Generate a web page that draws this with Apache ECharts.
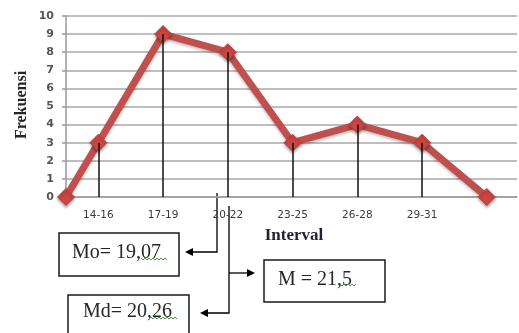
<!DOCTYPE html>
<html>
<head>
<meta charset="utf-8">
<script src="https://cdn.jsdelivr.net/npm/echarts@6/dist/echarts.min.js"></script>
<style>
  html, body { margin: 0; padding: 0; background: #ffffff; }
  #chart { width: 519px; height: 333px; }
</style>
</head>
<body>
<div id="chart"></div>
<script>
// Class intervals and their midpoints
const classLabels = ['14-16', '17-19', '20-22', '23-25', '26-28', '29-31'];
const classMids = [15, 18, 21, 24, 27, 30];
// Frequency polygon: closed at both ends with zero frequency
const polygonX = [13.5, 15, 18, 21, 24, 27, 30, 33];
const polygonY = [0, 3, 9, 8, 3, 4, 3, 0];
const yTicks = [0, 10, 1]; // min, max, step
// Summary statistics shown in the boxes
const statLabels = { mode: 'Mo= 19,07', median: 'Md= 20,26', mean: 'M = 21,5' };

const chart = echarts.init(document.getElementById('chart'), null, { renderer: 'canvas' });

const points = polygonX.map((x, i) => [x, polygonY[i]]);
const dropLines = points
  .filter(p => classMids.includes(p[0]))
  .map(p => [{ coord: [p[0], p[1]] }, { coord: [p[0], 0] }]);

const serif = '"Liberation Serif", "DejaVu Serif", serif';
const ink = '#262626';

function arrowHead(tipX, tipY, dir) {
  // dir: -1 points left, 1 points right
  const len = 8, half = 4;
  return {
    type: 'polygon',
    shape: { points: [[tipX, tipY], [tipX - dir * len, tipY - half], [tipX - dir * len, tipY + half]] },
    style: { fill: '#000' }
  };
}

function squiggle(x0, x1, y) {
  const pts = [];
  let up = true;
  for (let x = x0; x <= x1; x += 2) { pts.push([x, up ? y : y + 2]); up = !up; }
  return { type: 'polyline', shape: { points: pts }, style: { stroke: '#3aa13a', lineWidth: 1, fill: null } };
}

function box(x, y, w, h, label, tx, ty) {
  return [
    { type: 'rect', shape: { x: x, y: y, width: w, height: h }, style: { fill: '#fff', stroke: '#1a1a1a', lineWidth: 1.5 } },
    { type: 'text', x: tx, y: ty, style: { text: label, font: '20px ' + serif, fill: ink, textVerticalAlign: 'middle' } }
  ];
}

const option = {
  animation: false,
  backgroundColor: '#ffffff',
  grid: { left: 66, right: 2, top: 16, bottom: 136, containLabel: false },
  xAxis: {
    type: 'value',
    min: 13.5,
    max: 34.4,
    interval: 1.5,
    axisLine: { show: true, lineStyle: { color: '#9a9a9a', width: 1.5 } },
    axisTick: { show: false },
    splitLine: { show: false },
    axisLabel: {
      margin: 13,
      fontSize: 10.5,
      fontFamily: '"DejaVu Sans", sans-serif',
      color: '#3a3a3a',
      showMaxLabel: false,
      formatter: v => {
        const i = classMids.indexOf(Math.round(v * 10) / 10);
        return i >= 0 ? classLabels[i] : '';
      }
    }
  },
  yAxis: {
    type: 'value',
    min: yTicks[0],
    max: yTicks[1],
    interval: yTicks[2],
    axisLine: { show: true, lineStyle: { color: '#9a9a9a', width: 1.5 } },
    axisTick: { show: true, length: 4, lineStyle: { color: '#9a9a9a', width: 1.5 } },
    splitLine: { show: true, lineStyle: { color: '#a8a8a8', width: 1.5 } },
    axisLabel: {
      margin: 12,
      fontSize: 11,
      fontWeight: 'bold',
      fontFamily: '"DejaVu Sans", sans-serif',
      color: '#555'
    }
  },
  series: [{
    type: 'line',
    data: points,
    symbol: 'diamond',
    symbolSize: 17,
    lineStyle: { color: '#c0504d', width: 7, shadowColor: 'rgba(0,0,0,0.25)', shadowBlur: 3, shadowOffsetY: 2 },
    itemStyle: { color: '#cd4643', borderColor: '#b8403d', borderWidth: 1, shadowColor: 'rgba(0,0,0,0.35)', shadowBlur: 3, shadowOffsetY: 2 },
    z: 3,
    markLine: {
      silent: true,
      symbol: ['none', 'none'],
      label: { show: false },
      lineStyle: { color: '#111', width: 1.5, type: 'solid' },
      data: dropLines,
      z: 4
    }
  }],
  graphic: [
    {
      type: 'text', x: 22, y: 105, rotation: Math.PI / 2,
      style: { text: 'Frekuensi', font: 'bold 16px ' + serif, fill: ink, textAlign: 'center', textVerticalAlign: 'middle' }
    },
    {
      type: 'text', x: 294, y: 236,
      style: { text: 'Interval', font: 'bold 17px ' + serif, fill: '#1f1f3a', textAlign: 'center', textVerticalAlign: 'middle' }
    },
    // connector for the mode
    { type: 'polyline', shape: { points: [[217, 193], [217, 252], [190, 252]] }, style: { stroke: '#000', lineWidth: 1.3, fill: null } },
    arrowHead(185, 252, -1),
    // connector for the median and mean
    { type: 'polyline', shape: { points: [[229, 206], [229, 313], [205, 313]] }, style: { stroke: '#000', lineWidth: 1.3, fill: null } },
    arrowHead(200, 313, -1),
    { type: 'line', shape: { x1: 229, y1: 273, x2: 250, y2: 273 }, style: { stroke: '#000', lineWidth: 1.3 } },
    arrowHead(255, 273, 1),
    ...box(59, 233, 120, 43, statLabels.mode, 72, 253),
    squiggle(141, 167, 258),
    ...box(264, 260, 121, 42, statLabels.mean, 278, 280),
    squiggle(340, 356, 284),
    ...box(68, 295, 121, 45, statLabels.median, 83, 312),
    squiggle(151, 177, 317)
  ]
};

chart.setOption(option);
</script>
</body>
</html>
